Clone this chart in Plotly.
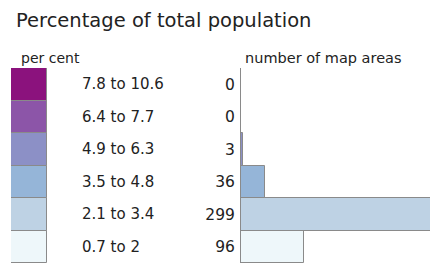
import plotly.graph_objects as go

# Data (top to bottom as in reference)
range_labels = ["7.8 to 10.6", "6.4 to 7.7", "4.9 to 6.3", "3.5 to 4.8", "2.1 to 3.4", "0.7 to 2"]
counts = [0, 0, 3, 36, 299, 96]
colors = ["#8b127d", "#8c55a8", "#8c90c6", "#95b5d8", "#bed2e4", "#eef7fa"]

# plotly draws horizontal bars bottom-up -> reverse
rl = range_labels[::-1]
ct = counts[::-1]
cl = colors[::-1]
pos = list(range(len(rl)))

W, H = 430, 263
TOP = 68
plot_h = H - TOP

def py(p):
    return (H - p) / plot_h

fig = go.Figure()

# colour swatches
fig.add_trace(go.Bar(
    y=pos, x=[1] * len(pos), orientation="h",
    marker=dict(color=cl, line=dict(color="#8a8a8a", width=1)),
    xaxis="x2", yaxis="y", hoverinfo="skip", showlegend=False,
))

# histogram bars
fig.add_trace(go.Bar(
    y=pos, x=ct, orientation="h",
    marker=dict(color=cl, line=dict(color="#8a8a8a", width=1)),
    xaxis="x", yaxis="y", showlegend=False,
))

font_family = "DejaVu Sans"

annotations = []
for p, lab in zip(pos, rl):
    annotations.append(dict(
        x=80 / W, xref="paper", y=p, yref="y", text=lab, showarrow=False,
        xanchor="left", yanchor="middle", font=dict(size=15, color="#222", family=font_family),
    ))

annotations += [
    dict(x=14 / W, xref="paper", y=py(20), yref="paper", text="Percentage of total population",
         showarrow=False, xanchor="left", yanchor="middle",
         font=dict(size=19.5, color="#222", family=font_family)),
    dict(x=19 / W, xref="paper", y=py(58), yref="paper", text="per cent",
         showarrow=False, xanchor="left", yanchor="middle",
         font=dict(size=14, color="#222", family=font_family)),
    dict(x=243 / W, xref="paper", y=py(58), yref="paper", text="number of map areas",
         showarrow=False, xanchor="left", yanchor="middle",
         font=dict(size=14.5, color="#222", family=font_family)),
]

fig.update_layout(
    width=W, height=H,
    margin=dict(l=0, r=0, t=TOP, b=0),
    paper_bgcolor="white", plot_bgcolor="white",
    bargap=0,
    annotations=annotations,
    xaxis=dict(domain=[241 / W, 1], range=[0, 288], visible=False, fixedrange=True),
    xaxis2=dict(domain=[11 / W, 47 / W], range=[0, 1], visible=False, anchor="y", fixedrange=True),
    yaxis=dict(
        domain=[0, 1], range=[-0.5, 5.5],
        tickvals=pos, ticktext=[str(c) for c in ct],
        showline=True, linecolor="#8a8a8a", linewidth=1,
        showgrid=False, zeroline=False, ticks="",
        ticklabelstandoff=2,
        tickfont=dict(size=15.5, color="#222", family=font_family),
        anchor="x", fixedrange=True,
    ),
)

fig.write_html(
    "out.html",
    config={"displayModeBar": False},
    post_script="document.body.style.margin='0';document.body.style.overflow='hidden';",
)
